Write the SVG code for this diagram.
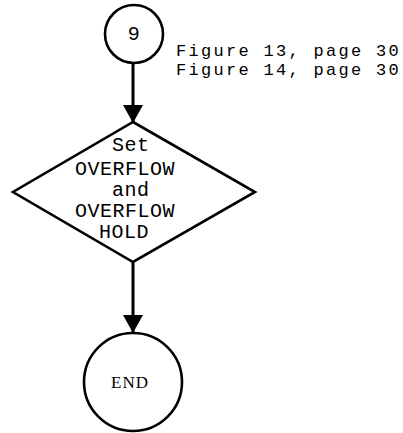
<svg xmlns="http://www.w3.org/2000/svg" width="403" height="433" viewBox="0 0 403 433">
<style>
.shape{fill:#fff;stroke:#000;stroke-width:2.6}
.conn{fill:none;stroke:#000;stroke-width:3}
.mono{font-family:"Liberation Mono","DejaVu Sans Mono",monospace;font-size:20px;letter-spacing:0.5px;fill:#000}
.note{font-family:"Liberation Mono","DejaVu Sans Mono",monospace;font-size:17px;letter-spacing:2.3px;fill:#000}
.serif{font-family:"Liberation Serif","DejaVu Serif",serif;font-size:17px;fill:#000}
</style>
<defs>
<marker id="arrow" markerUnits="userSpaceOnUse" markerWidth="22" markerHeight="22" refX="18" refY="10" orient="auto">
<path d="M0,0 L18,10 L0,20 z" fill="#000"/>
</marker>
</defs>
<rect width="403" height="433" fill="#fff"/>
<g id="connectors">
<line class="conn" x1="133" y1="63" x2="133" y2="123" marker-end="url(#arrow)"/>
<line class="conn" x1="133" y1="262" x2="133" y2="333" marker-end="url(#arrow)"/>
</g>
<g id="node-9">
<circle class="shape" cx="134" cy="34" r="29"/>
<text class="mono" x="134" y="40" text-anchor="middle">9</text>
</g>
<g id="note">
<text class="note" x="176" y="56">Figure 13, page 30</text>
<text class="note" x="176" y="75">Figure 14, page 30</text>
</g>
<g id="decision">
<polygon class="shape" points="133,122 255,192 133,262 13,192"/>
<text class="mono" x="112" y="151">Set</text>
<text class="mono" x="75" y="175">OVERFLOW</text>
<text class="mono" x="112" y="196">and</text>
<text class="mono" x="75" y="217">OVERFLOW</text>
<text class="mono" x="99" y="238">HOLD</text>
</g>
<g id="end">
<circle class="shape" cx="133" cy="382" r="49"/>
<text class="serif" x="130" y="388" text-anchor="middle" letter-spacing="1">END</text>
</g>
</svg>
